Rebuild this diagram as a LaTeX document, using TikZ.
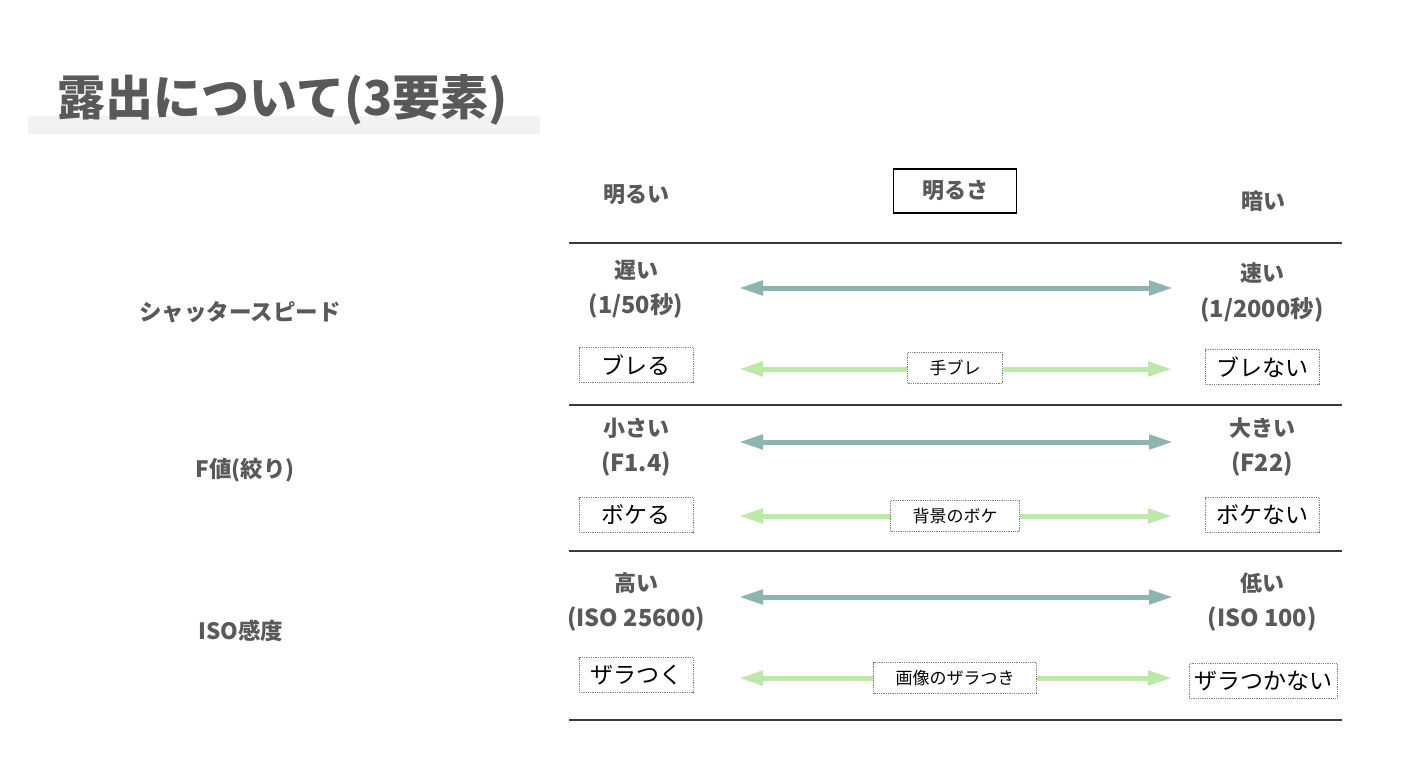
\documentclass[tikz,border=0pt]{standalone}
\usepackage{fontspec}
\setmainfont{Noto Sans CJK JP}
\usetikzlibrary{arrows.meta}
\definecolor{labelgray}{HTML}{595959}
\definecolor{rulegray}{HTML}{3A3A3A}
\definecolor{axisteal}{HTML}{8DB5AF}
\definecolor{axisgreen}{HTML}{BDE9A8}
\definecolor{barfill}{HTML}{F2F2F2}
\tikzset{
  heading/.style={font=\bfseries\fontsize{22}{26}\selectfont, text=labelgray, inner sep=0pt},
  valuetext/.style={font=\bfseries\fontsize{23.5}{27}\selectfont, text=labelgray, inner sep=0pt},
  rowname/.style={font=\bfseries\fontsize{22.5}{26}\selectfont, text=labelgray, inner sep=0pt},
  effectbox/.style={draw=gray, densely dotted, line width=0.8pt, font=\fontsize{23}{27}\selectfont,
    minimum width=114pt, minimum height=35pt, inner xsep=5pt, inner ysep=0pt},
  tagbox/.style={draw=gray, densely dotted, line width=0.8pt, fill=white, font=\fontsize{17}{20}\selectfont,
    minimum height=31pt, inner xsep=22pt, inner ysep=0pt},
  tealarrow/.style={draw=axisteal, line width=5pt,
    {Triangle[length=24pt,width=14pt]}-{Triangle[length=24pt,width=14pt]}},
  greenarrow/.style={draw=axisgreen, line width=5pt,
    {Triangle[length=24pt,width=14pt]}-{Triangle[length=24pt,width=14pt]}},
  rowrule/.style={draw=rulegray, line width=1.1pt},
}
\begin{document}
\begin{tikzpicture}[x=1pt,y=-1pt]
  \fill[white] (0,0) rectangle (1420,768);
  \useasboundingbox (0,0) rectangle (1420,768);
%%
  % Title
  \fill[barfill] (28,116) rectangle (540,134);
  \node[font=\bfseries\fontsize{48}{56}\selectfont, text=labelgray, inner sep=0pt] (title) at (283,100) {露出について(3要素)};
  % Header
  \node[heading] (bright) at (636,195) {明るい};
  \node[heading, draw=black, line width=1.5pt, minimum width=123pt, minimum height=44pt] (brightness) at (955,191) {明るさ};
  \node[heading] (dark) at (1263,201) {暗い};
  % Rules
  \coordinate (r0l) at (569,243); \coordinate (r0r) at (1342,243);
  \coordinate (r1l) at (569,405); \coordinate (r1r) at (1342,405);
  \coordinate (r2l) at (569,551); \coordinate (r2r) at (1342,551);
  \coordinate (r3l) at (569,720); \coordinate (r3r) at (1342,720);
  \draw[rowrule] (r0l) -- (r0r);
  \draw[rowrule] (r1l) -- (r1r);
  \draw[rowrule] (r2l) -- (r2r);
  \draw[rowrule] (r3l) -- (r3r);
%%
  % Row: shutter speed
  \node[rowname] (shutter) at (240,312) {シャッタースピード};
  \node[heading] (slow) at (636,270) {遅い};
  \node[valuetext] (slowval) at (636,306) {(1/50秒)};
  \node[heading] (fast) at (1262,273) {速い};
  \node[valuetext] (fastval) at (1262,310) {(1/2000秒)};
  \coordinate (ssl) at (739,288); \coordinate (ssr) at (1173,288);
  % Edge: ssl <-> ssr
  \draw[tealarrow] (ssl) -- (ssr);
  \node[effectbox] (blur) at (636,365) {ブレる};
  \node[effectbox] (noblur) at (1262,367) {ブレない};
  \coordinate (bll) at (739,369); \coordinate (blr) at (1172,369);
  % Edge: bll <-> blr
  \draw[greenarrow] (bll) -- (blr);
  \node[tagbox] (shake) at (955,368) {手ブレ};
%%
  % Row: aperture
  \node[rowname] (fnum) at (245,470) {F値(絞り)};
  \node[heading] (small) at (636,428) {小さい};
  \node[valuetext] (smallval) at (636,464) {(F1.4)};
  \node[heading] (large) at (1262,428) {大きい};
  \node[valuetext] (largeval) at (1262,464) {(F22)};
  \coordinate (apl) at (739,442); \coordinate (apr) at (1173,442);
  % Edge: apl <-> apr
  \draw[tealarrow] (apl) -- (apr);
  \node[effectbox] (bokeh) at (636,515) {ボケる};
  \node[effectbox] (nobokeh) at (1262,515) {ボケない};
  \coordinate (bkl) at (739,516); \coordinate (bkr) at (1172,516);
  % Edge: bkl <-> bkr
  \draw[greenarrow] (bkl) -- (bkr);
  \node[tagbox] (background) at (955,516) {背景のボケ};
%%
  % Row: ISO
  \node[rowname] (iso) at (241,631) {ISO感度};
  \node[heading] (high) at (636,583) {高い};
  \node[valuetext] (highval) at (636,619) {(ISO 25600)};
  \node[heading] (low) at (1262,583) {低い};
  \node[valuetext] (lowval) at (1262,619) {(ISO 100)};
  \coordinate (isl) at (739,597); \coordinate (isr) at (1173,597);
  % Edge: isl <-> isr
  \draw[tealarrow] (isl) -- (isr);
  \node[effectbox] (grainy) at (636,675) {ザラつく};
  \node[effectbox] (notgrainy) at (1263,681) {ザラつかない};
  \coordinate (grl) at (739,678); \coordinate (grr) at (1172,678);
  % Edge: grl <-> grr
  \draw[greenarrow] (grl) -- (grr);
  \node[tagbox] (noise) at (955,678) {画像のザラつき};
%
\end{tikzpicture}
\end{document}
